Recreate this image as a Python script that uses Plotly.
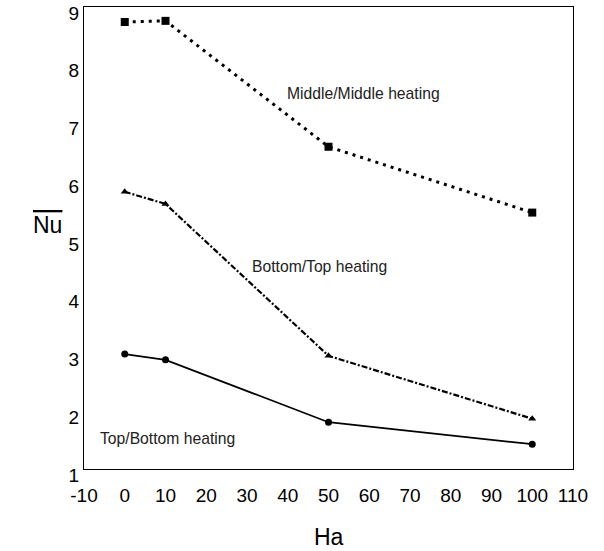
import plotly.graph_objects as go

ha = [0, 10, 50, 100]
nu_middle = [8.74, 8.76, 6.58, 5.44]
nu_bottom_top = [5.80, 5.59, 2.96, 1.87]
nu_top_bottom = [2.99, 2.89, 1.81, 1.43]

x_ticks = [-10, 0, 10, 20, 30, 40, 50, 60, 70, 80, 90, 100, 110]
x_tick_labels = ["-10", "0", "10", "20", "30", "40", "50", "60", "70", "80", "90", "100", "110"]
y_ticks = [1, 2, 3, 4, 5, 6, 7, 8, 9]
y_tick_labels = ["1", "2", "3", "4", "5", "6", "7", "8", "9"]

fig = go.Figure()
fig.add_trace(go.Scatter(x=ha, y=nu_middle, mode="lines+markers",
                         line=dict(color="black", width=3, dash="3px,5px"),
                         marker=dict(symbol="square", size=8, color="black")))
fig.add_trace(go.Scatter(x=ha, y=nu_bottom_top, mode="lines+markers",
                         line=dict(color="black", width=2.2, dash="6px,2px,2px,2px"),
                         marker=dict(symbol="triangle-up", size=7, color="black")))
fig.add_trace(go.Scatter(x=ha, y=nu_top_bottom, mode="lines+markers",
                         line=dict(color="black", width=1.7),
                         marker=dict(symbol="circle", size=7, color="black")))

font_family = "Arial"
fig.add_annotation(x=58.7, y=7.51, text="Middle/Middle heating", showarrow=False,
                   font=dict(size=15.7, family=font_family, color="#222"))
fig.add_annotation(x=47.8, y=4.50, text="Bottom/Top heating", showarrow=False,
                   font=dict(size=15.7, family=font_family, color="#222"))
fig.add_annotation(x=10.6, y=1.52, text="Top/Bottom heating", showarrow=False,
                   font=dict(size=15.7, family=font_family, color="#222"))
fig.add_annotation(xref="paper", yref="paper", x=-0.108, y=0.528,
                   text='<span style="text-decoration:overline">Nu</span>',
                   showarrow=False, font=dict(size=23, family=font_family, color="black"))
fig.add_annotation(xref="paper", yref="paper", x=0.5, y=-0.147, yanchor="middle",
                   text="Ha", showarrow=False,
                   font=dict(size=23, family=font_family, color="black"))

fig.update_layout(
    width=604, height=551,
    margin=dict(l=84, r=31, t=7, b=82),
    paper_bgcolor="white", plot_bgcolor="white",
    showlegend=False,
    font=dict(family=font_family, color="black"),
    xaxis=dict(range=[-10, 110], tickvals=x_ticks, ticktext=x_tick_labels,
               showgrid=False, zeroline=False, automargin=False,
               showline=True, linecolor="black", linewidth=1, mirror=True,
               ticks="", tickfont=dict(size=19), ticklabelstandoff=9),
    yaxis=dict(range=[1, 9], tickvals=y_ticks, ticktext=y_tick_labels,
               showgrid=False, zeroline=False, automargin=False,
               showline=True, linecolor="black", linewidth=1, mirror=True,
               ticks="", tickfont=dict(size=19), ticklabelshift=6),
)

fig.write_html("out.html")
